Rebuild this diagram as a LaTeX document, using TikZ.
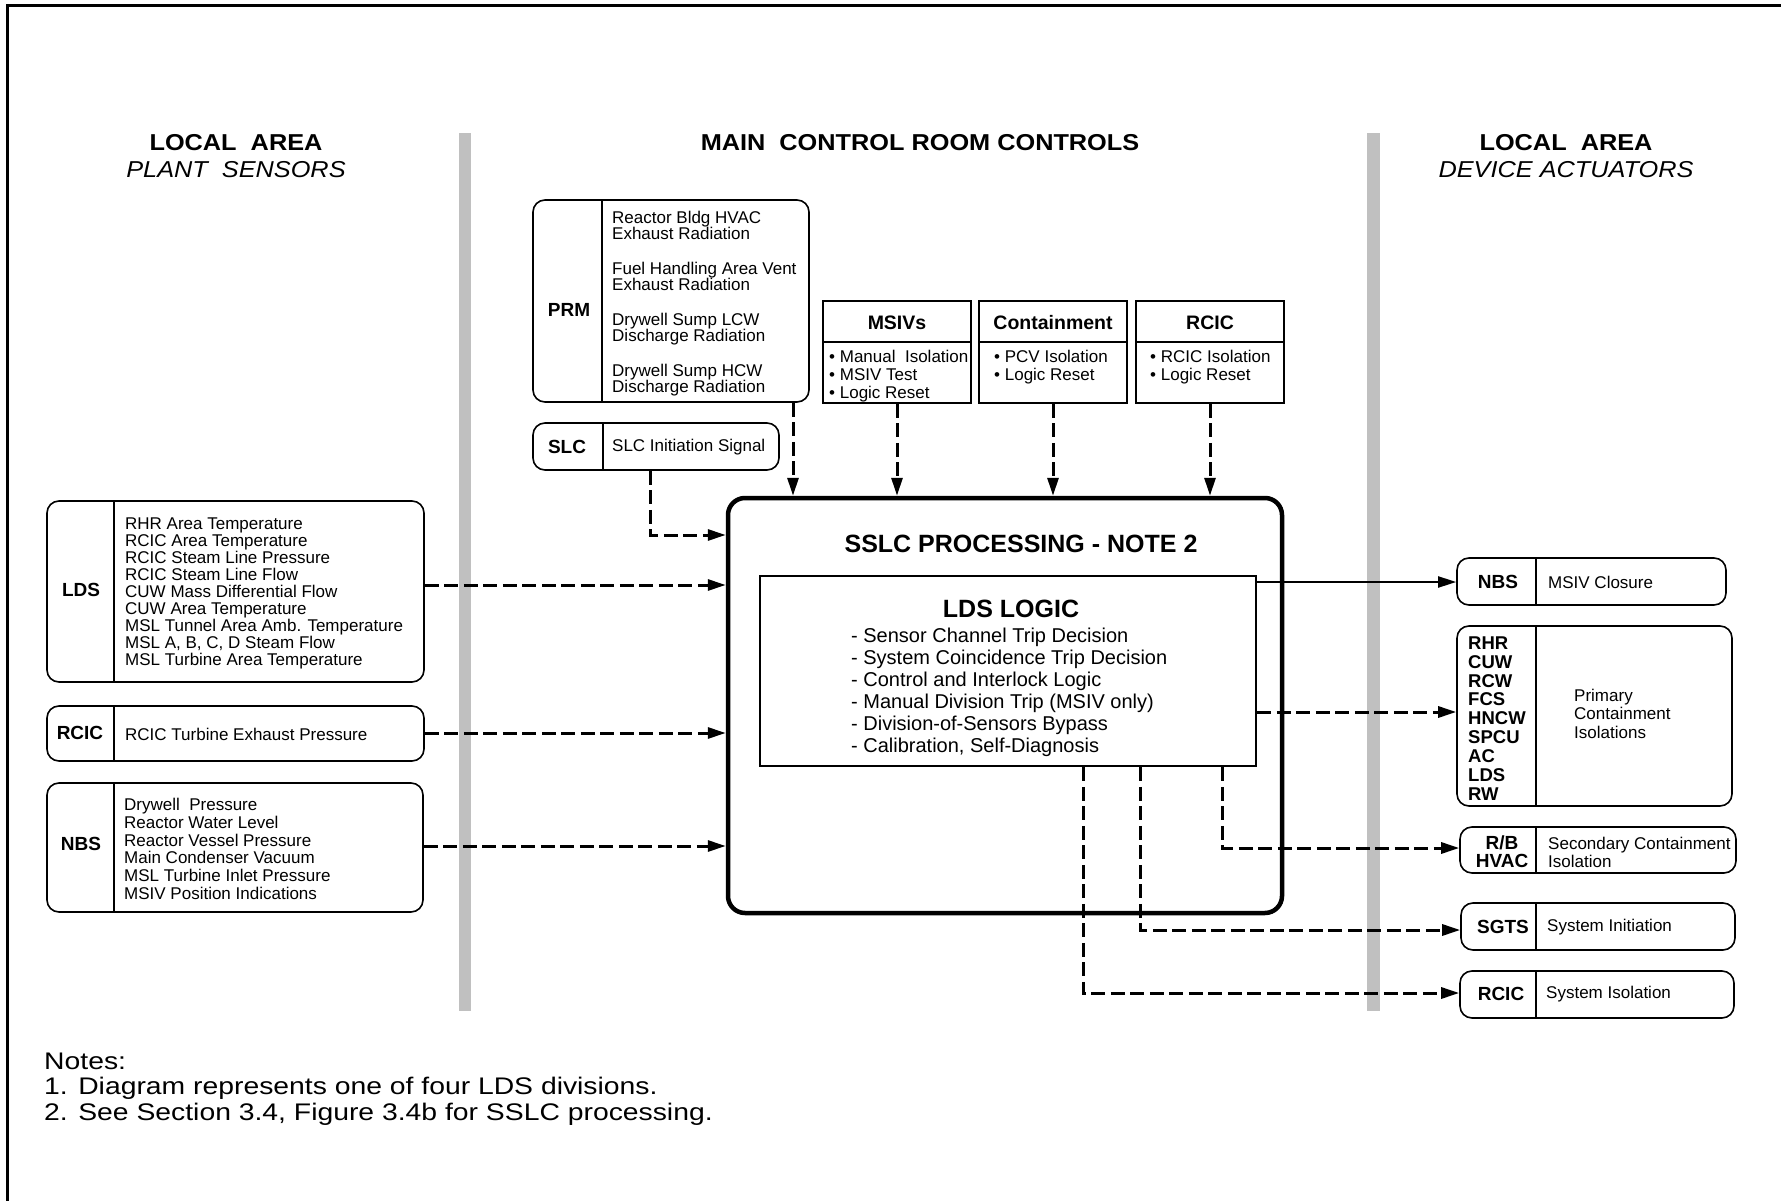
\documentclass[tikz,border=0pt]{standalone}
\usepackage{fontspec}
\setmainfont{Liberation Sans}
\newfontfamily\hdfont{Liberation Sans}[FakeStretch=1.1]
\newfontfamily\ntfont{Liberation Sans}[FakeStretch=1.18]
\usetikzlibrary{arrows.meta}
\definecolor{bargray}{RGB}{192,192,192}
\tikzset{
  rbox/.style={draw, line width=1.6pt, rounded corners=12pt, inner sep=0pt},
  sbox/.style={draw, line width=1.6pt, inner sep=0pt},
  divline/.style={line width=1.6pt},
  lbl/.style={font=\fontsize{19}{19}\selectfont\bfseries, inner sep=0pt, align=center},
  txt/.style={font=\fontsize{17}{17}\selectfont, align=left, inner sep=0pt, anchor=west},
  hdr/.style={font=\hdfont\fontsize{23}{23}\selectfont, inner sep=0pt},
  arr/.style={-{Triangle[length=18pt,width=11pt]}, line width=2pt},
  dasharr/.style={arr, line width=3pt, dash pattern=on 14pt off 5.5pt},
}
\begin{document}
\begin{tikzpicture}[x=1pt,y=-1pt]
\useasboundingbox (0,0) rectangle (1781,1201);
\fill[white] (0,0) rectangle (1781,1201);
% frame
\draw[line width=3pt] (7.5,1205) -- (7.5,5.5) -- (1785,5.5);
% gray separator bars
\fill[bargray] (459,133) rectangle (471,1011);
\fill[bargray] (1367,133) rectangle (1380,1011);
% headers
\node[hdr] (h1a) at (236,143) {\bfseries LOCAL\ \ AREA};
\node[hdr] (h1b) at (236,170) {\itshape PLANT\ \ SENSORS};
\node[hdr] (h2) at (920,143) {\bfseries MAIN\ \ CONTROL ROOM CONTROLS};
\node[hdr] (h3a) at (1566,143) {\bfseries LOCAL\ \ AREA};
\node[hdr] (h3b) at (1566,170) {\itshape DEVICE ACTUATORS};

% ---------- left boxes ----------
\node[rbox, minimum width=377pt, minimum height=181pt] (lds) at (235.5,591.5) {};
\draw[divline] (lds.north -| 114,0) -- (lds.south -| 114,0);
\node[lbl] (ldsl) at (81,590) {LDS};
\node[txt, font=\fontsize{17}{17.1}\selectfont] (ldst) at (125,593.5) {RHR Area Temperature\\RCIC Area Temperature\\RCIC Steam Line Pressure\\RCIC Steam Line Flow\\CUW Mass Differential Flow\\CUW Area Temperature\\MSL Tunnel Area Amb. Temperature\\MSL A, B, C, D Steam Flow\\MSL Turbine Area Temperature};

\node[rbox, minimum width=377pt, minimum height=55pt] (rcicl) at (235.5,733.5) {};
\draw[divline] (rcicl.north -| 114,0) -- (rcicl.south -| 114,0);
\node[lbl] (rcicll) at (80,733) {RCIC};
\node[txt] (rciclt) at (125,734) {RCIC Turbine Exhaust Pressure};

\node[rbox, minimum width=376pt, minimum height=129pt] (nbsl) at (235,847.5) {};
\draw[divline] (nbsl.north -| 114,0) -- (nbsl.south -| 114,0);
\node[lbl] (nbsll) at (81,844) {NBS};
\node[txt, font=\fontsize{17}{17.8}\selectfont] (nbslt) at (124,849) {Drywell\ \ Pressure\\Reactor Water Level\\Reactor Vessel Pressure\\Main Condenser Vacuum\\MSL Turbine Inlet Pressure\\MSIV Position Indications};

% ---------- top boxes ----------
\node[rbox, minimum width=276pt, minimum height=202pt] (prm) at (671,301) {};
\draw[divline] (prm.north -| 602,0) -- (prm.south -| 602,0);
\node[lbl] (prml) at (569,310) {PRM};
\node[txt, font=\fontsize{17}{16}\selectfont] (prmt) at (612,304) {Reactor Bldg HVAC\\Exhaust Radiation\\[19pt]Fuel Handling Area Vent\\Exhaust Radiation\\[19pt]Drywell Sump LCW\\Discharge Radiation\\[19pt]Drywell Sump HCW\\Discharge Radiation};

\node[rbox, minimum width=246pt, minimum height=47pt] (slc) at (656,446.5) {};
\draw[divline] (slc.north -| 603,0) -- (slc.south -| 603,0);
\node[lbl] (slcl) at (567,447) {SLC};
\node[txt] (slct) at (612,447) {SLC Initiation Signal};

\node[sbox, minimum width=148pt, minimum height=102pt] (msivs) at (897,352) {};
\draw[line width=2.6pt] (msivs.west |- 0,342) -- (msivs.east |- 0,342);
\node[lbl, font=\fontsize{19.5}{19.5}\selectfont\bfseries] (msivsl) at (897,323) {MSIVs};
\node[txt, font=\fontsize{17}{18}\selectfont] (msivst) at (829,376) {\textbullet\ Manual\ \ Isolation\\\textbullet\ MSIV Test\\\textbullet\ Logic Reset};

\node[sbox, minimum width=148pt, minimum height=102pt] (cont) at (1053,352) {};
\draw[line width=2.6pt] (cont.west |- 0,342) -- (cont.east |- 0,342);
\node[lbl, font=\fontsize{19.5}{19.5}\selectfont\bfseries] (contl) at (1053,323) {Containment};
\node[txt, font=\fontsize{17}{18}\selectfont] (contt) at (994,367) {\textbullet\ PCV Isolation\\\textbullet\ Logic Reset};

\node[sbox, minimum width=148pt, minimum height=102pt] (rcict) at (1210,352) {};
\draw[line width=2.6pt] (rcict.west |- 0,342) -- (rcict.east |- 0,342);
\node[lbl, font=\fontsize{19.5}{19.5}\selectfont\bfseries] (rcictl) at (1210,323) {RCIC};
\node[txt, font=\fontsize{17}{18}\selectfont] (rcictt) at (1150,367) {\textbullet\ RCIC Isolation\\\textbullet\ Logic Reset};

% ---------- SSLC ----------
\node[draw, line width=4.5pt, rounded corners=17pt, minimum width=554pt, minimum height=415pt, inner sep=0pt] (sslc) at (1005,705.5) {};
\node[font=\fontsize{25}{25}\selectfont\bfseries, inner sep=0pt] (sslct) at (1021,544) {SSLC PROCESSING - NOTE 2};
\node[draw, line width=2.5pt, minimum width=496pt, minimum height=190pt, inner sep=0pt] (logic) at (1008,671) {};
\node[font=\fontsize{25}{25}\selectfont\bfseries, inner sep=0pt] (logict) at (1011,609) {LDS LOGIC};
\node[txt, font=\fontsize{20}{22}\selectfont] (logicit) at (851,692) {- Sensor Channel Trip Decision\\- System Coincidence Trip Decision\\- Control and Interlock Logic\\- Manual Division Trip (MSIV only)\\- Division-of-Sensors Bypass\\- Calibration, Self-Diagnosis};

% ---------- right boxes ----------
\node[rbox, minimum width=269pt, minimum height=47pt] (nbsr) at (1591.5,581.5) {};
\draw[divline] (nbsr.north -| 1536,0) -- (nbsr.south -| 1536,0);
\node[lbl] (nbsrl) at (1498,582) {NBS};
\node[txt] (nbsrt) at (1548,582) {MSIV Closure};

\node[rbox, minimum width=275pt, minimum height=180pt] (prim) at (1594.5,716) {};
\draw[divline] (prim.north -| 1536,0) -- (prim.south -| 1536,0);
\node[txt, font=\fontsize{18.5}{18.9}\selectfont\bfseries] (priml) at (1468,718.5) {RHR\\CUW\\RCW\\FCS\\HNCW\\SPCU\\AC\\LDS\\RW};
\node[txt, font=\fontsize{17}{18.5}\selectfont] (primt) at (1574,713.5) {Primary\\Containment\\Isolations};

\node[rbox, minimum width=276pt, minimum height=46pt] (rbh) at (1598,850) {};
\draw[divline] (rbh.north -| 1536,0) -- (rbh.south -| 1536,0);
\node[lbl, font=\fontsize{19}{18}\selectfont\bfseries] (rbhl) at (1502,852) {R/B\\HVAC};
\node[txt, font=\fontsize{17}{18}\selectfont] (rbht) at (1548,852) {Secondary Containment\\Isolation};

\node[rbox, minimum width=274pt, minimum height=47pt] (sgts) at (1598,926.5) {};
\draw[divline] (sgts.north -| 1536,0) -- (sgts.south -| 1536,0);
\node[lbl] (sgtsl) at (1503,927) {SGTS};
\node[txt] (sgtst) at (1547,927) {System Initiation};

\node[rbox, minimum width=274pt, minimum height=47pt] (rcicr) at (1597,994.5) {};
\draw[divline] (rcicr.north -| 1536,0) -- (rcicr.south -| 1536,0);
\node[lbl] (rcicrl) at (1501,994) {RCIC};
\node[txt] (rcicrt) at (1546,994) {System Isolation};

% ---------- connectors ----------
\draw[dasharr] (prm.south -| 793,0) -- (sslc.north -| 793,0);
\draw[dasharr] (msivs.south) -- (msivs.south |- sslc.north);
\draw[dasharr] (cont.south) -- (cont.south |- sslc.north);
\draw[dasharr] (rcict.south) -- (rcict.south |- sslc.north);
\draw[dasharr] (slc.south -| 650,0) |- (sslc.west |- 0,535);
\draw[dasharr] (lds.east |- 0,585) -- (sslc.west |- 0,585);
\draw[dasharr] (rcicl.east |- 0,733) -- (sslc.west |- 0,733);
\draw[dasharr] (nbsl.east |- 0,846) -- (sslc.west |- 0,846);

\draw[arr] (logic.east |- 0,582) -- (nbsr.west |- 0,582);
\draw[dasharr] (logic.east |- 0,712) -- (prim.west |- 0,712);
\draw[dasharr] (logic.south -| 1222,0) |- (rbh.west |- 0,848);
\draw[dasharr] (logic.south -| 1140,0) |- (sgts.west |- 0,930);
\draw[dasharr] (logic.south -| 1083,0) |- (rcicr.west |- 0,993);

% ---------- notes ----------
\node[txt, font=\ntfont\fontsize{24}{25.5}\selectfont] (notes) at (44,1089) {Notes:\\1. Diagram represents one of four LDS divisions.\\2. See Section 3.4, Figure 3.4b for SSLC processing.};
\end{tikzpicture}
\end{document}
